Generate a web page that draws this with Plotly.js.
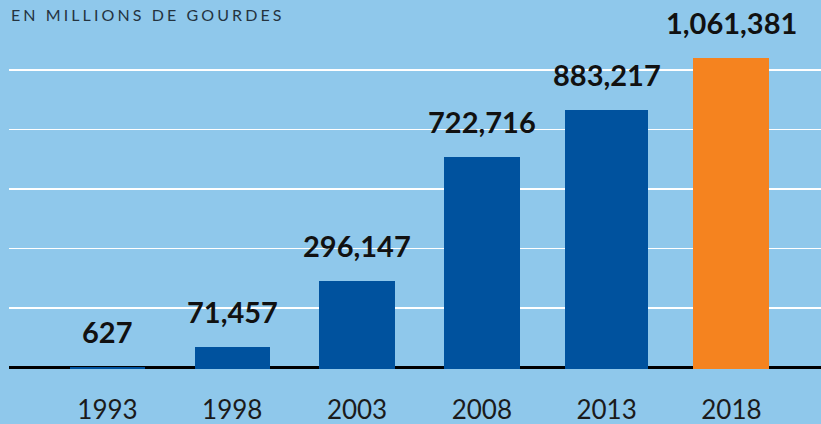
<!DOCTYPE html>
<html>
<head>
<meta charset="utf-8">
<script src="https://cdn.plot.ly/plotly-3.0.1.min.js"></script>
<style>
  html, body { margin: 0; padding: 0; background: #8FC8EB; }
  #chart { width: 821px; height: 424px; }
  .annotation[data-index="0"] text { letter-spacing: 3.1px; }
</style>
</head>
<body>
<div id="chart"></div>
<script>
// Data
const years = [1993, 1998, 2003, 2008, 2013, 2018];
const yearLabels = ["1993", "1998", "2003", "2008", "2013", "2018"];
const values = [627, 71457, 296147, 722716, 883217, 1061381];
const subtitle = "EN MILLIONS DE GOURDES";

// Styling / scale configuration
const unitsPerPx = 3430;
const gridStep = 204000;
const barColors = years.map((y, i) => i === years.length - 1 ? "#F5831F" : "#00529E");
const barWidths = [3.02, 3.02, 3.02, 3.02, 3.32, 3.05];
const barBase = -1.5 * unitsPerPx; // bars start just under the baseline stroke
const gridVals = [0, 1, 2, 3, 4, 5].map(k => k * gridStep);

const trace = {
  type: "bar",
  x: years,
  y: values.map(v => v - barBase), // so the bar top lands exactly at the value
  base: barBase,
  width: barWidths,
  marker: { color: barColors, line: { width: 0 } },
  hoverinfo: "skip"
};

const valueAnnotations = years.map((yr, i) => ({
  x: yr,
  y: values[i],
  xref: "x",
  yref: "y",
  text: values[i].toLocaleString("en-US"),
  showarrow: false,
  xanchor: "center",
  yanchor: "bottom",
  yshift: 16,
  font: { family: "Lato, 'DejaVu Sans', sans-serif", size: 29, color: "#111111", weight: 700 }
}));

const layout = {
  width: 821,
  height: 424,
  margin: { l: 9, r: 0, t: 0, b: 54, pad: 0 },
  paper_bgcolor: "#8FC8EB",
  plot_bgcolor: "#8FC8EB",
  showlegend: false,
  bargap: 0,
  xaxis: {
    type: "linear",
    range: [1989.055, 2021.59],
    tickvals: years,
    ticktext: yearLabels,
    showgrid: false,
    zeroline: false,
    showline: false,
    ticks: "",
    ticklabelstandoff: 22,
    tickfont: { family: "Lato, 'DejaVu Sans', sans-serif", size: 26, color: "#1b1b1b" },
    fixedrange: true
  },
  yaxis: {
    range: [-2.5 * unitsPerPx, 367.5 * unitsPerPx],
    tickmode: "array",
    tickvals: gridVals,
    showticklabels: false,
    ticks: "",
    showgrid: true,
    gridcolor: "#FFFFFF",
    gridwidth: 1.6,
    zeroline: true,
    zerolinecolor: "#000000",
    zerolinewidth: 2.5,
    showline: false,
    fixedrange: true
  },
  annotations: [
    {
      xref: "paper", yref: "paper",
      x: 0.171, y: 1, xanchor: "center", yanchor: "top", yshift: -3,
      text: subtitle,
      showarrow: false,
      font: { family: "Lato, 'DejaVu Sans', sans-serif", size: 16, color: "#24333F" }
    }
  ].concat(valueAnnotations)
};

Plotly.newPlot("chart", [trace], layout, { displayModeBar: false, staticPlot: true });
</script>
</body>
</html>
